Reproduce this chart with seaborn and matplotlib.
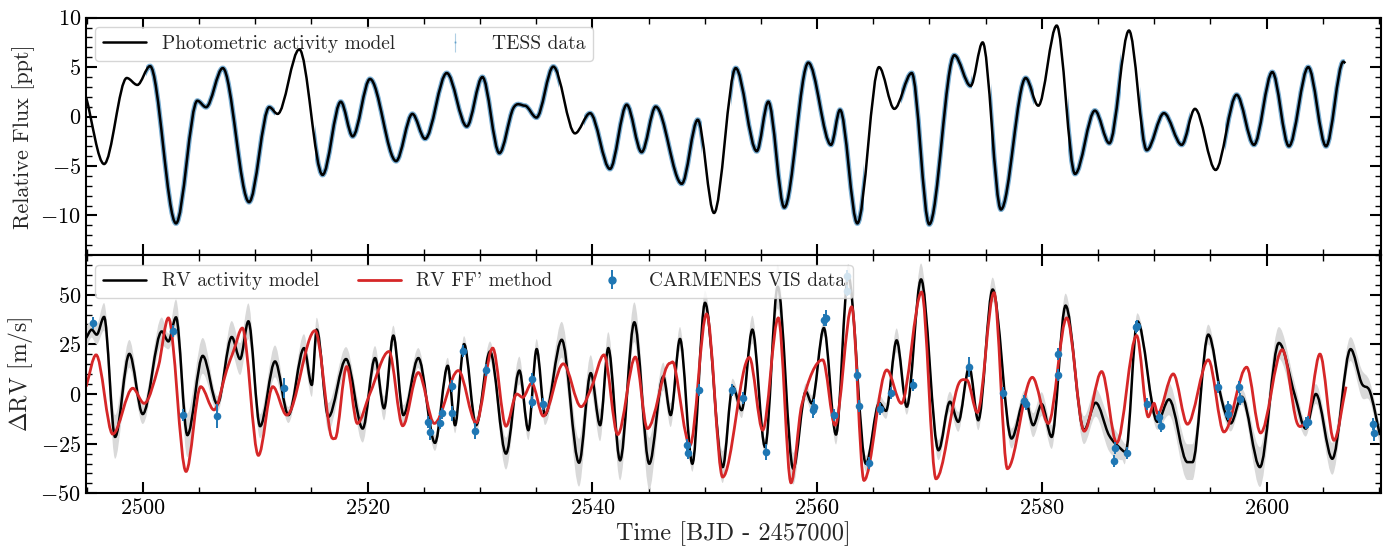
import numpy as np
import matplotlib
matplotlib.use("Agg")
import matplotlib.pyplot as plt
import seaborn as sns
from matplotlib.path import Path
from matplotlib.patches import PathPatch, Rectangle
from matplotlib.lines import Line2D
from matplotlib.ticker import MultipleLocator

# photometric activity model: turning points (time, ppt)
phot_t = [2494.96, 2496.56, 2498.58, 2499.52, 2500.65, 2502.96, 2504.86, 2505.63, 2507.12, 2509.46,
          2511.26, 2512.0, 2513.93, 2516.0, 2517.62, 2518.68, 2520.22, 2522.54, 2523.99, 2525.12,
          2527.05, 2528.83, 2530.22, 2531.73, 2532.97, 2534.0, 2535.03, 2536.53, 2538.46, 2539.8,
          2541.57, 2543.06, 2544.39, 2545.64, 2547.96, 2549.38, 2550.83, 2552.76, 2554.63, 2555.66,
          2557.08, 2559.22, 2561.24, 2562.04, 2563.58, 2565.51, 2566.87, 2568.42, 2569.98, 2572.21,
          2573.66, 2574.73, 2576.36, 2578.56, 2579.68, 2581.32, 2582.95, 2584.72, 2586.0, 2587.75,
          2589.33, 2590.86, 2592.44, 2593.62, 2595.46, 2597.33, 2598.87, 2600.5, 2601.98, 2603.7,
          2605.28, 2606.82, 2607.0]
phot_v = [1.96, -4.8, 3.9, 3.2, 5.1, -10.8, 1.6, 0.95, 4.9, -8.65,
          0.95, 0.27, 6.8, -5.9, 1.5, -2.0, 3.8, -4.5, 0.27, -2.25,
          4.4, -1.0, 4.0, -3.7, 0.85, 1.1, -0.1, 5.05, -1.7, 0.34,
          -5.3, 1.2, -3.6, 1.0, -6.8, -0.33, -9.75, 4.9, -3.5, 1.5,
          -9.2, 5.45, -2.86, 0.68, -10.8, 5.0, 0.78, 4.4, -10.9, 6.2,
          3.1, 7.5, -9.4, 3.9, 1.1, 9.2, -5.8, 0.6, -2.7, 8.7,
          -3.4, 0.34, -2.86, 0.78, -5.4, 2.2, -2.86, 4.5, -3.0, 5.0,
          -3.0, 5.55, 5.4]

# time spans covered by TESS photometry
tess_start = [2500.3, 2515.3, 2539.3, 2552.3, 2567.5, 2575.5, 2582.3, 2588.7, 2596.3]
tess_end = [2511.8, 2537.0, 2549.8, 2564.2, 2573.8, 2579.3, 2587.0, 2593.2, 2607.0]

# RV activity model (m/s) and its uncertainty band
rv_t = [2494.96, 2495.46, 2495.9, 2496.56, 2497.54, 2498.81, 2500.0, 2501.69, 2502.28, 2502.96,
        2503.97, 2505.34, 2506.64, 2507.92, 2508.66, 2509.4, 2510.44, 2511.77, 2512.96, 2514.35,
        2515.04, 2515.48, 2516.52, 2518.09, 2519.57, 2520.67, 2521.47, 2522.3, 2523.19, 2524.52,
        2526.0, 2527.14, 2527.79, 2528.59, 2529.66, 2530.9, 2532.32, 2533.51, 2534.31, 2535.05,
        2535.79, 2537.28, 2538.82, 2539.86, 2540.69, 2541.42, 2542.47, 2543.74, 2545.07, 2546.32,
        2546.97, 2547.8, 2548.9, 2550.03, 2551.6, 2552.49, 2553.29, 2554.24, 2555.37, 2556.5,
        2557.88, 2559.0, 2559.52, 2560.6, 2561.68, 2562.77, 2564.35, 2565.53, 2566.13, 2567.08,
        2567.98, 2569.25, 2570.8, 2571.82, 2572.56, 2573.54, 2574.34, 2575.62, 2577.3, 2578.49,
        2579.23, 2579.98, 2580.87, 2582.11, 2583.75, 2584.79, 2585.97, 2587.16, 2587.46, 2588.5,
        2590.28, 2591.31, 2592.95, 2593.4, 2594.81, 2596.0, 2596.8, 2597.78, 2599.4, 2601.09,
        2602.5, 2603.47, 2604.38, 2605.84, 2607.47, 2608.45, 2609.19, 2610.08]
rv_v = [28.2, 32.4, 29.9, 38.8, -21.6, 20.2, -10.1, 31.5, 26.5, 38.6,
        -20.7, 19.2, -5.1, 28.7, 17.6, 36.6, -16.2, 16.4, -10.6, 23.1,
        4.6, 32.4, -11.5, 17.6, -17.4, 18.1, -7.2, 29.4, -10.6, 18.1,
        -24.6, 14.2, -15.7, 25.1, -15.7, 21.4, -30.0, 11.8, -18.2, 22.6,
        -10.6, 27.3, -34.6, 10.5, -15.7, 23.1, -33.4, 36.1, -35.1, 8.8,
        -10.6, 27.7, -35.1, 45.9, -36.8, 3.7, -8.1, 32.4, -26.7, 54.0,
        -37.6, 1.2, -4.7, 33.2, -20.4, 59.4, -35.1, -4.5, -8.5, 27.0,
        -6.4, 57.7, -28.3, -3.9, -14.0, 13.5, -13.2, 52.6, -22.4, -2.2,
        -15.7, -5.1, -21.6, 44.5, -18.2, -4.4, -20.7, -28.3, -29.2, 36.6,
        -14.0, -2.7, -34.3, -34.3, 29.9, -3.0, -14.8, -1.4, -36.8, 25.7,
        -0.5, -17.4, 0.0, -32.6, 22.6, 5.4, 1.2, -20.7]
rv_sig = [6, 4, 5, 7, 11, 7, 5, 7, 4, 9,
          11, 9, 4, 8, 8, 9, 6, 8, 4, 7,
          6, 6, 7, 6, 7, 6, 6, 5, 5, 5,
          4, 4, 4, 4, 4, 5, 8, 7, 5, 5,
          5, 9, 12, 9, 8, 8, 10, 10, 13, 7,
          6, 6, 4, 6, 8, 4, 4, 7, 4, 11,
          8, 4, 4, 4, 5, 6, 4, 4, 4, 6,
          4, 8, 5, 5, 5, 4, 5, 6, 5, 4,
          6, 6, 6, 6, 7, 7, 8, 5, 4, 4,
          4, 8, 9, 9, 5, 4, 4, 4, 10, 8,
          6, 4, 5, 8, 6, 7, 5, 5]

# RV from the FF' method
ff_t = [2494.96, 2495.85, 2497.33, 2499.11, 2500.12, 2501.39, 2502.28, 2503.85, 2505.16, 2506.34,
        2507.47, 2508.1, 2508.86, 2510.29, 2511.57, 2512.81, 2515.33, 2516.67, 2517.11, 2518.15,
        2519.09, 2520.22, 2521.91, 2523.13, 2524.52, 2525.94, 2528.08, 2529.66, 2531.14, 2532.32,
        2533.28, 2533.81, 2534.61, 2535.64, 2537.42, 2539.0, 2539.95, 2541.04, 2542.26, 2543.83,
        2544.9, 2546.91, 2547.3, 2548.69, 2550.17, 2551.6, 2553.97, 2555.16, 2556.55, 2557.68,
        2558.63, 2560.5, 2561.6, 2563.08, 2564.17, 2566.2, 2567.5, 2569.3, 2570.58, 2572.48,
        2573.31, 2574.26, 2575.74, 2576.93, 2579.15, 2580.57, 2582.21, 2583.77, 2585.32, 2586.66,
        2588.43, 2589.47, 2589.98, 2590.3, 2591.69, 2592.95, 2594.81, 2596.2, 2598.22, 2599.46,
        2601.39, 2602.67, 2603.5, 2604.74, 2605.99, 2607.06]
ff_v = [3.7, 19.7, -20.2, 2.9, -4.7, 13.8, 38.3, -39.0, 3.7, -8.0,
        12.1, 22.0, 33.2, -30.9, 3.7, -10.6, 31.9, -19.1, -22.4, 13.8,
        -14.8, 0.35, 21.4, -16.0, 10.8, -14.8, 11.8, -14.5, 23.1, -16.2,
        0.0, -1.7, 5.4, -11.1, 15.2, -6.4, 3.7, 19.7, -20.4, 18.6,
        -17.4, 15.5, 14.5, -25.8, 40.3, -41.8, 18.4, -18.2, 38.3, -44.7,
        -5.6, 17.2, -15.7, 43.9, -43.5, 12.1, -4.7, 51.3, -42.7, 3.4,
        7.1, -9.3, 51.0, -37.6, 8.4, -14.8, 38.3, -18.7, 11.3, -24.6,
        29.4, -11.5, -4.7, -9.8, 10.1, -15.2, 17.2, -19.1, 13.5, -19.6,
        22.3, -14.0, -14.8, 20.1, -23.3, 3.7]

# CARMENES VIS radial velocities
obs_t = [2495.6, 2502.67, 2503.61, 2506.58, 2512.6, 2525.41, 2525.56, 2526.45, 2526.6, 2527.49,
         2527.55, 2528.53, 2529.57, 2530.52, 2534.61, 2534.66, 2535.64, 2548.4, 2548.54, 2549.5,
         2552.46, 2553.44, 2555.45, 2559.6, 2559.72, 2560.6, 2560.76, 2561.5, 2562.69, 2562.69,
         2563.53, 2563.76, 2564.65, 2565.6, 2566.55, 2568.56, 2573.54, 2576.57, 2578.41, 2578.59,
         2581.46, 2581.46, 2586.42, 2586.51, 2587.55, 2588.37, 2588.49, 2589.38, 2590.45, 2590.57,
         2595.64, 2596.53, 2596.58, 2597.56, 2597.62, 2603.53, 2603.68, 2609.47, 2609.54]
obs_v = [35.8, 31.5, -10.6, -11.0, 3.2, -14.3, -19.1, -14.5, -9.8, 4.0,
         -9.8, 21.8, -18.6, 12.1, -3.9, 7.4, -5.2, -25.8, -29.5, 2.0,
         2.0, -1.9, -29.2, -8.1, -6.4, 37.4, 38.3, -10.6, 59.4, 52.1,
         9.6, -5.9, -34.8, -7.7, 0.7, 4.6, 13.5, 0.7, -3.4, -5.1,
         20.2, 9.6, -33.9, -27.0, -29.7, 33.7, 34.4, -5.1, -11.5, -16.2,
         3.7, -6.4, -10.3, 3.4, -2.5, -14.8, -14.0, -15.2, -19.6]
obs_err = [3, 3, 3, 6, 5, 3, 4, 3, 3, 3,
           4, 3, 4, 3, 3, 3, 3, 3, 3, 3,
           3, 3, 4, 4, 4, 3, 4, 3, 3, 3,
           3, 3, 3, 3, 3, 3, 5, 3, 3, 3,
           3, 3, 3, 3, 3, 3, 3, 3, 3, 3,
           3, 3, 3, 3, 3, 3, 3, 3, 4]


def curve_path(t, v):
    """Smooth Bezier path through the read turning points (drawn by matplotlib)."""
    t = np.asarray(t, float)
    v = np.asarray(v, float)
    n = len(t)
    m = np.zeros(n)
    for i in range(n):
        if i == 0:
            m[i] = (v[1] - v[0]) / (t[1] - t[0])
        elif i == n - 1:
            m[i] = (v[-1] - v[-2]) / (t[-1] - t[-2])
        elif (v[i] - v[i - 1]) * (v[i + 1] - v[i]) > 0:
            m[i] = (v[i + 1] - v[i - 1]) / (t[i + 1] - t[i - 1])
    verts = [(t[0], v[0])]
    codes = [Path.MOVETO]
    for i in range(n - 1):
        h = (t[i + 1] - t[i]) / 3
        verts += [(t[i] + h, v[i] + m[i] * h), (t[i + 1] - h, v[i + 1] - m[i + 1] * h), (t[i + 1], v[i + 1])]
        codes += [Path.CURVE4] * 3
    return verts, codes


def line_patch(t, v, **kw):
    verts, codes = curve_path(t, v)
    return PathPatch(Path(verts, codes), facecolor="none", **kw)


def band_patch(t, v, s, **kw):
    v = np.asarray(v, float)
    s = np.asarray(s, float)
    vu, cu = curve_path(t, v + s)
    vl, cl = curve_path(t[::-1], (v - s)[::-1])
    cl[0] = Path.LINETO
    verts = vu + vl + [vu[0]]
    codes = cu + cl + [Path.CLOSEPOLY]
    return PathPatch(Path(verts, codes), **kw)


sns.set_theme(style="ticks")
plt.rcParams.update({
    "font.family": "serif",
    "font.serif": ["cmr10", "DejaVu Serif"],
    "mathtext.fontset": "cm",
    "axes.formatter.use_mathtext": True,
    "axes.linewidth": 1.5,
    "axes.edgecolor": "black",
    "xtick.direction": "in",
    "ytick.direction": "in",
    "xtick.top": True,
    "ytick.right": True,
    "xtick.major.size": 8,
    "ytick.major.size": 8,
    "xtick.minor.size": 4.5,
    "ytick.minor.size": 4.5,
    "xtick.major.width": 1.5,
    "ytick.major.width": 1.5,
    "xtick.minor.width": 1.0,
    "ytick.minor.width": 1.0,
    "xtick.color": "black",
    "ytick.color": "black",
    "xtick.labelsize": 16,
    "ytick.labelsize": 16,
})

blue = "#1f77b4"
red = "#d62728"

fig = plt.figure(figsize=(13.9, 5.46), dpi=100)
ax1 = fig.add_axes([0.0617, 0.533, 0.9318, 0.4346])
ax2 = fig.add_axes([0.0617, 0.0965, 0.9318, 0.4365], sharex=ax1)

# --- photometry panel
for a, b in zip(tess_start, tess_end):
    p = line_patch(phot_t, phot_v, edgecolor=blue, lw=3.6, alpha=0.6, zorder=2)
    ax1.add_patch(p)
    p.set_clip_path(Rectangle((a, -20), b - a, 40, transform=ax1.transData))
ax1.add_patch(line_patch(phot_t, phot_v, edgecolor="black", lw=1.8, zorder=6))
h_tess = ax1.errorbar([np.nan], [np.nan], yerr=[0.4], fmt=".", color=blue, ms=1.5,
                      elinewidth=0.8, alpha=0.35)
ax1.set_ylim(-14, 10)
ax1.set_ylabel("Relative Flux [ppt]", fontsize=16)
ax1.yaxis.set_major_locator(MultipleLocator(5))
ax1.yaxis.set_minor_locator(MultipleLocator(1))
ax1.tick_params(labelbottom=False)
ax1.legend([Line2D([], [], color="black", lw=1.8), h_tess],
           ["Photometric activity model", "TESS data"],
           loc="upper left", ncol=2, fontsize=14, handlelength=2.2)

# --- RV panel
ax2.add_patch(band_patch(rv_t, rv_v, rv_sig, facecolor="#d9d9d9", edgecolor="none", zorder=1))
ax2.add_patch(line_patch(rv_t, rv_v, edgecolor="black", lw=1.8, zorder=2))
ax2.add_patch(line_patch(ff_t, ff_v, edgecolor=red, lw=2.0, zorder=2.5))
ax2.errorbar(obs_t, obs_v, yerr=obs_err, fmt="none", ecolor=blue, elinewidth=1.4, zorder=3)
sns.scatterplot(x=obs_t, y=obs_v, ax=ax2, color=blue, s=30, linewidth=0, zorder=4)
h_carm = ax2.errorbar([np.nan], [np.nan], yerr=[1], fmt="o", color=blue, ms=5, elinewidth=1.4)
ax2.set_ylim(-50, 70)
ax2.set_xlim(2494.93, 2610.17)
ax2.set_ylabel(r"$\Delta$RV [m/s]", fontsize=17)
ax2.set_xlabel("Time [BJD - 2457000]", fontsize=17.5, labelpad=2)
ax2.yaxis.set_major_locator(MultipleLocator(25))
ax2.yaxis.set_minor_locator(MultipleLocator(5))
ax2.xaxis.set_major_locator(MultipleLocator(20))
ax2.xaxis.set_minor_locator(MultipleLocator(5))
ax2.legend([Line2D([], [], color="black", lw=1.8), Line2D([], [], color=red, lw=2.0), h_carm],
           ["RV activity model", "RV FF' method", "CARMENES VIS data"],
           loc="upper left", ncol=3, fontsize=14, handlelength=2.2)

for ax in (ax1, ax2):
    ax.tick_params(which="both", top=True, right=True)
    for sp in ax.spines.values():
        sp.set_visible(True)
fig.align_ylabels([ax1, ax2])

fig.savefig("out.png", dpi=100)
